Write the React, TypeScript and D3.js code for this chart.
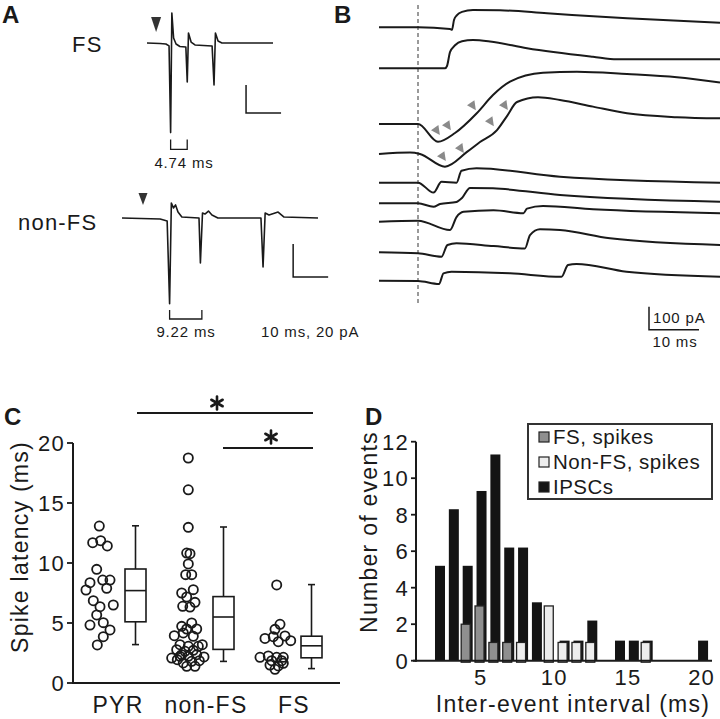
import React from "react";
import * as d3 from "d3";

const FONT = "'Liberation Sans', Arial, Helvetica, sans-serif";
const INK = "#1a1a1a";

// ---------- Panel A data (ms, pA) ----------
const fsTrace: [number, number][] = [
  [0, 0], [3.7, -0.4], [5.4, -0.7], [6.3, -2.1], [6.75, -64], [7.1, 21.4], [7.6, 3.6],
  [8.3, -0.7], [9.4, -2.5], [11.1, -2.9], [11.5, -27.9], [11.85, 7.1], [12.6, 0.7],
  [13.7, -1.4], [18.6, -2.1], [19.15, -30], [19.55, 7.1], [20.3, 1.4], [21.4, 0], [36, 0],
];
const nonFsTrace: [number, number][] = [
  [0, 0], [10.9, -0.6], [12.9, -1.8], [13.6, -52], [14.1, 9.1], [14.7, 6.1], [15.3, 7.9],
  [16, 3.6], [17.1, 0.6], [22, 0], [22.4, -27.3], [23, 3], [23.7, 2.4], [24.7, 4.2],
  [25.7, 1.8], [27.4, 0], [39.7, 0], [40.3, -29.7], [40.9, 3], [42, 1.8], [44.6, 3.6],
  [46.3, 0.6], [56, 0],
];
const fsStim = 2.6;
const nonFsStim = 6;
const fsFirstSpike = 6.75;
const fsInterval = 4.74;
const nonFsFirstSpike = 13.6;
const nonFsInterval = 9.22;

// ---------- Panel B data (ms from stimulus, pA) ----------
const ipscTraces: [number, number][][] = [
  [[-7.8, 0], [0, 0], [6.4, -7], [6.8, -11], [7.2, 32], [7.8, 53], [8.8, 67], [11, 75], [16.4, 74], [25.8, 61], [41.8, 39], [60.4, 20]],
  [[-7.8, 0], [5.4, 0], [5.8, 10], [6.4, 70], [7.4, 100], [8.8, 118], [11, 123], [14.4, 117], [21.8, 87], [35, 50], [39.8, 39], [60.4, 39]],
  [[-7.8, 0], [0, 0], [4, -77], [7.4, -39], [11.8, 48], [15, 126], [18.4, 184], [25, 223], [31.8, 227], [41.8, 217], [51.8, 203], [60.4, 180]],
  [[-7.8, 0], [-1.6, 6], [0.4, 0], [5.4, -55], [9.8, 9], [12.4, 52], [15.8, 104], [17.8, 165], [19.8, 226], [24, 247], [28.4, 235], [35, 206], [41.8, 177], [51.8, 160], [60.4, 155]],
  [[-7.8, 0], [0, 0], [3.1, -43], [4.7, 4], [7.7, 0], [8.7, 52], [11.7, 63], [28.4, 26], [60.4, 0]],
  [[-7.8, 0], [0, 0], [3.1, -15], [4.4, -3], [7.7, 6], [8.8, 23], [10.4, 67], [15, 65], [28.4, 36], [60.4, 7]],
  [[-7.8, 0], [0, 4], [6.4, -36], [7.7, 20], [9.1, 43], [15.1, 50], [21.1, 37], [21.8, 57], [25, 68], [35, 54], [60.4, 37]],
  [[-7.8, 0], [0, -4], [4.7, -19], [5.9, 32], [7.7, 39], [15.1, 27], [21.4, 17], [22.4, 75], [24.4, 100], [28.4, 97], [38.4, 61], [60.4, 32]],
  [[-7.8, 0], [0, -1], [4.2, -14], [5.1, 32], [6.7, 39], [18.4, 32], [28.7, 17], [30, 68], [31.7, 73], [41.7, 39], [60.4, 17]],
];
const ipscBaselines = [27.3, 68.3, 124, 154, 182.7, 203.3, 221.7, 252.3, 280.7];
// arrowheads marking unitary IPSCs: [trace index, ms, pA]
const ipscMarks: [number, number, number][] = [
  [2, 3.8, -30], [2, 6, -9], [2, 11, 78], [3, 14.6, 139], [3, 17.4, 209], [3, 5, -13], [3, 8.6, 22],
];

// ---------- Panel C data ----------
const groups = ["PYR", "non-FS", "FS"];
const pyrLatency = [13.08, 11.69, 11.86, 11.42, 9.47, 8.36, 7.75, 8.58, 8.58, 7.89, 6.86, 6.36, 6.5, 5.67, 5.03, 4.83, 4.42, 3.86, 3.17];
const pyrJitter = [-0.7, -7.3, 0.7, 7.3, -3.3, -10, -14, 2.7, 10, 6.7, -6.7, 0, 13.3, -3.3, 3.3, -10, 10, 3.3, -2.7];
const nonFsLatency = [18.75, 16.1, 12.97, 10.83, 10.78, 9.92, 9.03, 9.03, 7.78, 7.5, 7.17, 6.39, 6.72, 6.33, 3.94, 4.72, 4.5, 4.5, 5.0, 4.17, 3.89, 3.19, 3.06, 3.06, 3.19, 2.78, 2.64, 2.72, 2.08, 2.22, 2.22, 2.36, 2.17, 1.67, 1.81, 1.86, 1.94, 1.39, 1.39, 2.36];
const nonFsJitter = [0.3, 0.3, 0.3, -1.3, 2, 0.3, -2.3, 3.7, 5.3, -6.3, -1.3, -5.3, 7, 2, -13.7, -6.3, -1.3, 8.7, 3.7, -4.7, 5.3, -8, 0.3, 10.3, 14.3, -11.3, -3, 5.3, -16.3, -8, 0.3, 8.7, 16, -4.7, 3.7, 11.3, -10.7, -1.3, 7, -6.3];
const fsLatency = [8.17, 4.89, 4.47, 3.71, 3.86, 3.44, 3.53, 2.14, 2.25, 2.14, 2.14, 1.86, 1.86, 1.5, 1.42, 1.14, 1.64, 3.92];
const fsJitter = [0.7, 4, -1, -11, -2.7, 2.3, 14.7, -16, -7.7, 0.7, 7.3, -4.3, 5.7, -6, 2.3, -1, 7.3, 9];
const boxMin = [3.2, 1.8, 1.2];
const boxQ1 = [5.1, 2.8, 2.1];
const boxMedian = [7.7, 5.5, 3.1];
const boxQ3 = [9.5, 7.2, 3.9];
const boxMax = [13.1, 13.0, 8.2];
const latencyTicks = [0, 5, 10, 15, 20];

// ---------- Panel D data ----------
const binCenters = [2.24, 3.18, 4.12, 5.06, 6.0, 6.94, 7.88, 8.82, 9.76, 10.7, 11.64, 12.58, 13.52, 14.46, 15.4, 16.34, 17.28, 18.22, 19.16, 20.1];
const ipscCounts = [5.2, 8.3, 5.2, 9.3, 11.3, 6.2, 6.2, 3.2, 0, 1.1, 1.1, 2.2, 0, 1.1, 1.1, 1.1, 0, 0, 0, 1.1];
const fsSpikeCounts = [0, 0, 2, 3, 1, 1, 0, 0, 0, 0, 0, 0, 0, 0, 0, 0, 0, 0, 0, 0];
const nonFsSpikeCounts = [0, 0, 0, 0, 0, 0, 1, 0, 3, 1, 1, 1, 0, 0, 0, 1, 0, 0, 0, 0];
const eventTicks = [0, 2, 4, 6, 8, 10, 12];
const intervalTicks = [5, 10, 15, 20];
const legendItems = [
  { label: "FS, spikes", fill: "#8f8f8f" },
  { label: "Non-FS, spikes", fill: "#ededed" },
  { label: "IPSCs", fill: "#141414" },
];

const txt = (size: number, extra: any = {}) => ({
  fontFamily: FONT, fontSize: size, fill: INK, letterSpacing: size * 0.055, ...extra,
});

function Asterisk({ cx, cy, r }: { cx: number; cy: number; r: number }) {
  const angles = [90, 30, -30];
  return (
    <g>
      {angles.map((a) => {
        const rad = (a * Math.PI) / 180;
        return (
          <line key={a} x1={cx - r * Math.cos(rad)} y1={cy - r * Math.sin(rad)}
            x2={cx + r * Math.cos(rad)} y2={cy + r * Math.sin(rad)}
            stroke={INK} strokeWidth={2.6} strokeLinecap="round" />
        );
      })}
    </g>
  );
}

export default function App() {
  // ---- Panel A scales
  const xFS = d3.scaleLinear().domain([0, 36]).range([147, 273]);
  const yFS = d3.scaleLinear().domain([0, 20]).range([43, 15]);
  const xN = d3.scaleLinear().domain([0, 56]).range([122, 318]);
  const yN = d3.scaleLinear().domain([0, 20]).range([218, 185]);
  const lineFS = d3.line<[number, number]>().x((d) => xFS(d[0])).y((d) => yFS(d[1]));
  const lineN = d3.line<[number, number]>().x((d) => xN(d[0])).y((d) => yN(d[1]));

  // ---- Panel B scales
  const xB = d3.scaleLinear().domain([-7.8, 60.4]).range([379, 720]);
  const pxPerPA = 0.23;
  const yB = (i: number, v: number) => ipscBaselines[i] - v * pxPerPA;

  // ---- Panel C scales
  const yC = d3.scaleLinear().domain([0, 20]).range([683, 443]);
  const xC = d3.scalePoint<string>().domain(groups).range([118, 294]);
  const scatterOffset = -18;
  const boxOffset = 17.5;
  const boxW = 21;
  const latencies = [pyrLatency, nonFsLatency, fsLatency];
  const jitters = [pyrJitter, nonFsJitter, fsJitter];

  // ---- Panel D scales
  const xD = d3.scaleLinear().domain([0, 20]).range([407, 701.6]);
  const yD = d3.scaleLinear().domain([0, 12]).range([660.7, 441.7]);
  const barW = 10;
  const overW = 9;

  const tri = (cx: number, top: number, w: number, h: number) =>
    `M${cx - w / 2},${top} L${cx + w / 2},${top} L${cx},${top + h} Z`;

  const letter = txt(24, { fontWeight: "bold", letterSpacing: 0 });

  return (
    <svg width={720} height={719} style={{ position: "absolute", left: 0, top: 0, background: "#fff" }}>
      <rect x={0} y={0} width={720} height={719} fill="#fff" />
      {/* Panel letters */}
      <text x={2} y={23} {...letter}>A</text>
      <text x={334} y={23} {...letter}>B</text>
      <text x={4} y={425} {...letter}>C</text>
      <text x={365} y={425} {...letter}>D</text>

      {/* ---------- Panel A ---------- */}
      <text x={72} y={52} {...txt(22)}>FS</text>
      <text x={18} y={230} {...txt(22)}>non-FS</text>
      <path d={tri(xFS(fsStim), 17, 10, 15)} fill="#333" />
      <path d={tri(xN(nonFsStim), 193, 9, 12)} fill="#333" />
      <path d={lineFS(fsTrace) || ""} fill="none" stroke={INK} strokeWidth={1.6} strokeLinejoin="round" />
      <path d={lineN(nonFsTrace) || ""} fill="none" stroke={INK} strokeWidth={1.6} strokeLinejoin="round" />
      {/* brackets */}
      <path d={`M${xFS(fsFirstSpike)},${yFS(-69)} L${xFS(fsFirstSpike)},${yFS(-76)} L${xFS(fsFirstSpike + fsInterval)},${yFS(-76)} L${xFS(fsFirstSpike + fsInterval)},${yFS(-69)}`}
        fill="none" stroke={INK} strokeWidth={1.3} />
      <text x={184} y={168} textAnchor="middle" {...txt(15)}>{`${fsInterval} ms`}</text>
      <path d={`M${xN(nonFsFirstSpike)},${yN(-55.8)} L${xN(nonFsFirstSpike)},${yN(-61.2)} L${xN(nonFsFirstSpike + nonFsInterval)},${yN(-61.2)} L${xN(nonFsFirstSpike + nonFsInterval)},${yN(-55.8)}`}
        fill="none" stroke={INK} strokeWidth={1.3} />
      <text x={186} y={337} textAnchor="middle" {...txt(15)}>{`${nonFsInterval} ms`}</text>
      <text x={261} y={337} {...txt(15)}>10 ms, 20 pA</text>
      {/* scale bars */}
      <path d={`M${xFS(28.3)},${yFS(-30)} L${xFS(28.3)},${yFS(-50)} L${xFS(38.3)},${yFS(-50)}`} fill="none" stroke={INK} strokeWidth={1.5} />
      <path d={`M${xN(48.9)},${yN(-15.8)} L${xN(48.9)},${yN(-35.8)} L${xN(58.9)},${yN(-35.8)}`} fill="none" stroke={INK} strokeWidth={1.5} />

      {/* ---------- Panel B ---------- */}
      <line x1={xB(0)} x2={xB(0)} y1={5} y2={305} stroke="#9a9a9a" strokeWidth={2} strokeDasharray="4,3" />
      {ipscTraces.map((tr, i) => (
        <path key={i}
          d={d3.line<[number, number]>().x((d) => xB(d[0])).y((d) => yB(i, d[1])).curve(d3.curveMonotoneX)(tr) || ""}
          fill="none" stroke={INK} strokeWidth={2} strokeLinejoin="round" />
      ))}
      {ipscMarks.map(([i, t, v], k) => (
        <path key={k} d="M-4.5,-4 L4.5,-4 L0,5 Z" fill="#8a8a8a"
          transform={`translate(${xB(t)},${yB(i, v)}) rotate(-35)`} />
      ))}
      <path d={`M${xB(46.2)},${yB(8, 0) + 26} L${xB(46.2)},${yB(8, 0) + 49} L${xB(56.2)},${yB(8, 0) + 49}`} fill="none" stroke={INK} strokeWidth={1.5} />
      <text x={653} y={323} {...txt(15)}>100 pA</text>
      <text x={675} y={347} textAnchor="middle" {...txt(15)}>10 ms</text>

      {/* ---------- Panel C ---------- */}
      <line x1={73} x2={73} y1={yC(20)} y2={yC(0) + 1} stroke={INK} strokeWidth={2} />
      <line x1={72} x2={340} y1={yC(0)} y2={yC(0)} stroke={INK} strokeWidth={2} />
      {latencyTicks.map((t) => (
        <g key={t}>
          <line x1={67} x2={73} y1={yC(t)} y2={yC(t)} stroke={INK} strokeWidth={1.8} />
          <text x={65} y={yC(t)} dy="0.36em" textAnchor="end" {...txt(22)}>{t}</text>
        </g>
      ))}
      <text transform={`translate(28,547) rotate(-90)`} textAnchor="middle" {...txt(23)}>Spike latency (ms)</text>
      {groups.map((g) => (
        <text key={g} x={xC(g)} y={713} textAnchor="middle" {...txt(23)}>{g}</text>
      ))}
      {groups.map((g, gi) => (
        <g key={g}>
          {latencies[gi].map((v, k) => (
            <circle key={k} cx={(xC(g) as number) + scatterOffset + jitters[gi][k]} cy={yC(v)} r={4.6}
              fill="none" stroke={INK} strokeWidth={1.8} />
          ))}
        </g>
      ))}
      {groups.map((g, gi) => {
        const cx = (xC(g) as number) + boxOffset;
        return (
          <g key={g} stroke={INK} strokeWidth={1.6} fill="#fff">
            <line x1={cx} x2={cx} y1={yC(boxMax[gi])} y2={yC(boxQ3[gi])} />
            <line x1={cx} x2={cx} y1={yC(boxQ1[gi])} y2={yC(boxMin[gi])} />
            <line x1={cx - 3.5} x2={cx + 3.5} y1={yC(boxMax[gi])} y2={yC(boxMax[gi])} />
            <line x1={cx - 3.5} x2={cx + 3.5} y1={yC(boxMin[gi])} y2={yC(boxMin[gi])} />
            <rect x={cx - boxW / 2} y={yC(boxQ3[gi])} width={boxW} height={yC(boxQ1[gi]) - yC(boxQ3[gi])} />
            <line x1={cx - boxW / 2} x2={cx + boxW / 2} y1={yC(boxMedian[gi])} y2={yC(boxMedian[gi])} />
          </g>
        );
      })}
      {/* significance */}
      <line x1={137} x2={313} y1={413} y2={413} stroke={INK} strokeWidth={2} />
      <Asterisk cx={217} cy={403} r={6.5} />
      <line x1={223} x2={313} y1={448} y2={448} stroke={INK} strokeWidth={2} />
      <Asterisk cx={271} cy={437} r={6.5} />

      {/* ---------- Panel D ---------- */}
      {binCenters.map((c, i) => ipscCounts[i] > 0 ? (
        <rect key={`b${i}`} x={xD(c) - barW / 2} y={yD(ipscCounts[i])} width={barW} height={yD(0) - yD(ipscCounts[i])} fill="#141414" />
      ) : null)}
      {binCenters.map((c, i) => fsSpikeCounts[i] > 0 ? (
        <rect key={`f${i}`} x={xD(c) - 2 - overW / 2} y={yD(fsSpikeCounts[i])} width={overW} height={yD(0) - yD(fsSpikeCounts[i]) + 1.5}
          fill="#8f8f8f" stroke="#222" strokeWidth={1.3} />
      ) : null)}
      {binCenters.map((c, i) => nonFsSpikeCounts[i] > 0 ? (
        <rect key={`n${i}`} x={xD(c) - 2 - overW / 2} y={yD(nonFsSpikeCounts[i])} width={overW} height={yD(0) - yD(nonFsSpikeCounts[i]) + 1.5}
          fill="#ededed" stroke="#222" strokeWidth={1.3} />
      ) : null)}
      <line x1={416} x2={416} y1={yD(12)} y2={yD(0) + 1} stroke={INK} strokeWidth={2} />
      <line x1={413} x2={712} y1={yD(0)} y2={yD(0)} stroke={INK} strokeWidth={2} />
      {eventTicks.map((t) => (
        <g key={t}>
          <line x1={411} x2={416} y1={yD(t)} y2={yD(t)} stroke={INK} strokeWidth={1.8} />
          <text x={409} y={yD(t)} dy="0.36em" textAnchor="end" {...txt(22)}>{t}</text>
        </g>
      ))}
      {intervalTicks.map((t) => (
        <text key={t} x={xD(t)} y={685} textAnchor="middle" {...txt(22)}>{t}</text>
      ))}
      <text transform={`translate(377,532) rotate(-90)`} textAnchor="middle" {...txt(23)}>Number of events</text>
      <text x={573} y={712} textAnchor="middle" {...txt(23)}>Inter-event interval (ms)</text>
      {/* legend */}
      <rect x={528} y={424} width={184} height={75} fill="#fff" stroke="#333" strokeWidth={2} />
      {legendItems.map((it, i) => (
        <g key={it.label}>
          <rect x={539} y={432 + i * 25} width={10} height={10} fill={it.fill} stroke="#222" strokeWidth={1.2} />
          <text x={553} y={443.5 + i * 25} {...txt(20.5, { letterSpacing: 0.5 })}>{it.label}</text>
        </g>
      ))}
    </svg>
  );
}
